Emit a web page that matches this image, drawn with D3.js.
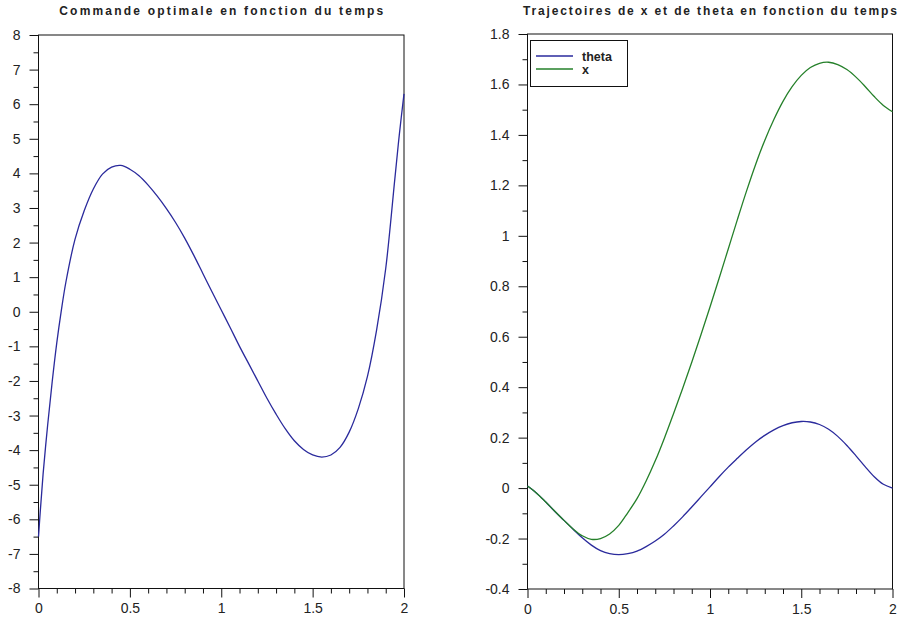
<!DOCTYPE html>
<html>
<head>
<meta charset="utf-8">
<script src="https://cdn.jsdelivr.net/npm/d3@7/dist/d3.min.js"></script>
<style>
  html, body { margin: 0; padding: 0; background: #ffffff; }
  svg { display: block; }
  .tick text { font-family: "Liberation Sans", Arial, sans-serif; font-size: 14px; fill: #222; }
</style>
</head>
<body>
<svg id="chart" width="900" height="622"></svg>
<script>
// ---------- Data ----------
const leftTitle = "Commande optimale en fonction du temps";
const rightTitle = "Trajectoires de x et de theta en fonction du temps";

const commandTimes = [0, 0.01, 0.025, 0.05, 0.075, 0.1, 0.125, 0.15, 0.2, 0.25, 0.3, 0.35, 0.4, 0.45, 0.5, 0.55, 0.6, 0.65, 0.7, 0.75, 0.8, 0.85, 0.9, 0.95, 1.0, 1.05, 1.1, 1.15, 1.2, 1.25, 1.3, 1.35, 1.4, 1.45, 1.5, 1.55, 1.6, 1.65, 1.7, 1.75, 1.8, 1.85, 1.9, 1.95, 1.975, 2.0];
const commandValues = [-6.5, -5.75, -4.7, -3.28, -2.02, -0.9, 0.04, 0.86, 2.1, 2.92, 3.55, 3.98, 4.18, 4.23, 4.12, 3.93, 3.66, 3.34, 2.98, 2.58, 2.13, 1.63, 1.1, 0.57, 0.05, -0.47, -1.0, -1.5, -2.0, -2.5, -2.96, -3.38, -3.73, -3.98, -4.14, -4.2, -4.14, -3.92, -3.48, -2.8, -1.87, -0.53, 1.25, 3.85, 5.15, 6.3];

const trajTimes = [0, 0.05, 0.1, 0.15, 0.2, 0.25, 0.3, 0.35, 0.4, 0.45, 0.5, 0.55, 0.6, 0.65, 0.7, 0.75, 0.8, 0.85, 0.9, 0.95, 1.0, 1.05, 1.1, 1.15, 1.2, 1.25, 1.3, 1.35, 1.4, 1.45, 1.5, 1.55, 1.6, 1.65, 1.7, 1.75, 1.8, 1.85, 1.9, 1.95, 2.0];
const thetaValues = [0.008, -0.02, -0.055, -0.093, -0.128, -0.163, -0.197, -0.226, -0.248, -0.26, -0.264, -0.26, -0.25, -0.232, -0.21, -0.183, -0.15, -0.114, -0.075, -0.035, 0.005, 0.045, 0.083, 0.118, 0.152, 0.183, 0.209, 0.231, 0.248, 0.259, 0.264, 0.262, 0.252, 0.233, 0.205, 0.169, 0.128, 0.085, 0.045, 0.015, 0.0];
const xValues = [0.008, -0.02, -0.055, -0.092, -0.128, -0.162, -0.189, -0.203, -0.2, -0.182, -0.148, -0.097, -0.042, 0.028, 0.108, 0.198, 0.295, 0.395, 0.499, 0.607, 0.718, 0.832, 0.948, 1.064, 1.177, 1.283, 1.378, 1.461, 1.533, 1.591, 1.636, 1.667, 1.684, 1.688, 1.679, 1.659, 1.629, 1.592, 1.552, 1.517, 1.492];

const xTickValues = [0, 0.5, 1, 1.5, 2];
const leftYTicks = [-8, -7, -6, -5, -4, -3, -2, -1, 0, 1, 2, 3, 4, 5, 6, 7, 8];
const rightYTicks = [-0.4, -0.2, 0, 0.2, 0.4, 0.6, 0.8, 1, 1.2, 1.4, 1.6, 1.8];
const legendLabels = ["theta", "x"];
const seriesColors = ["#2a2a9c", "#25802a"];

// ---------- Drawing ----------
const svg = d3.select("#chart");
svg.append("rect").attr("width", 900).attr("height", 622).attr("fill", "#fff");

function panel(cfg) {
  const g = svg.append("g");
  const x = d3.scaleLinear().domain([0, 2]).range([cfg.left, cfg.right]);
  const y = d3.scaleLinear().domain(cfg.yDomain).range([cfg.bottom, cfg.top]);

  // minor ticks
  const minorX = d3.range(0, 2.0001, 0.1).map(v => +v.toFixed(2)).filter(v => !xTickValues.includes(v));
  g.append("g").attr("transform", `translate(0,${cfg.bottom})`)
    .call(d3.axisBottom(x).tickValues(minorX).tickSize(5).tickFormat(""))
    .call(a => a.select(".domain").remove());
  g.append("g").attr("transform", `translate(${cfg.left},0)`)
    .call(d3.axisLeft(y).tickValues(cfg.yMinor).tickSize(5).tickFormat(""))
    .call(a => a.select(".domain").remove());

  // major ticks
  g.append("g").attr("transform", `translate(0,${cfg.bottom})`)
    .call(d3.axisBottom(x).tickValues(xTickValues).tickSize(9).tickPadding(6).tickFormat(d => String(d)))
    .call(a => a.select(".domain").remove());
  g.append("g").attr("transform", `translate(${cfg.left},0)`)
    .call(d3.axisLeft(y).tickValues(cfg.yTicks).tickSize(9).tickPadding(9).tickFormat(d => String(+d.toFixed(1))))
    .call(a => a.select(".domain").remove());

  g.selectAll(".tick line").attr("stroke", "#111");

  // frame
  g.append("rect")
    .attr("x", cfg.left).attr("y", cfg.top)
    .attr("width", cfg.right - cfg.left).attr("height", cfg.bottom - cfg.top)
    .attr("fill", "none").attr("stroke", "#111").attr("stroke-width", 1);

  // title
  svg.append("text")
    .attr("x", (cfg.left + cfg.right) / 2).attr("y", 15)
    .attr("text-anchor", "middle")
    .attr("font-family", "'Liberation Sans', Arial, sans-serif")
    .attr("font-size", 12).attr("font-weight", "bold").attr("fill", "#222")
    .attr("textLength", cfg.titleWidth).attr("lengthAdjust", "spacing")
    .text(cfg.title);

  return { g, x, y };
}

const curve = d3.curveCatmullRom.alpha(0.5);

// left panel
const L = panel({
  left: 38.5, right: 404, top: 35, bottom: 588.5,
  yDomain: [-8, 8], yTicks: leftYTicks,
  yMinor: d3.range(-7.5, 8, 1),
  title: leftTitle, titleWidth: 324
});
L.g.append("path")
  .datum(commandTimes.map((t, i) => [t, commandValues[i]]))
  .attr("fill", "none").attr("stroke", seriesColors[0]).attr("stroke-width", 1.3)
  .attr("d", d3.line().x(d => L.x(d[0])).y(d => L.y(d[1])).curve(curve));

// right panel
const R = panel({
  left: 527.5, right: 892.5, top: 34, bottom: 589,
  yDomain: [-0.4, 1.8], yTicks: rightYTicks,
  yMinor: d3.range(-0.3, 1.8, 0.2).map(v => +v.toFixed(2)),
  title: rightTitle, titleWidth: 374
});
[thetaValues, xValues].forEach((vals, k) => {
  R.g.append("path")
    .datum(trajTimes.map((t, i) => [t, vals[i]]))
    .attr("fill", "none").attr("stroke", seriesColors[k]).attr("stroke-width", 1.3)
    .attr("d", d3.line().x(d => R.x(d[0])).y(d => R.y(d[1])).curve(curve));
});

// legend
const lg = svg.append("g");
lg.append("rect").attr("x", 530.5).attr("y", 40.5).attr("width", 97).attr("height", 46)
  .attr("fill", "#fff").attr("stroke", "#111").attr("stroke-width", 1);
legendLabels.forEach((lab, i) => {
  const yy = 56 + i * 13;
  lg.append("line").attr("x1", 536).attr("x2", 573).attr("y1", yy).attr("y2", yy)
    .attr("stroke", seriesColors[i]).attr("stroke-width", 1.3);
  lg.append("text").attr("x", 582).attr("y", yy + 5)
    .attr("font-family", "'Liberation Sans', Arial, sans-serif")
    .attr("font-size", 12.5).attr("font-weight", "bold").attr("fill", "#222")
    .text(lab);
});
</script>
</body>
</html>
